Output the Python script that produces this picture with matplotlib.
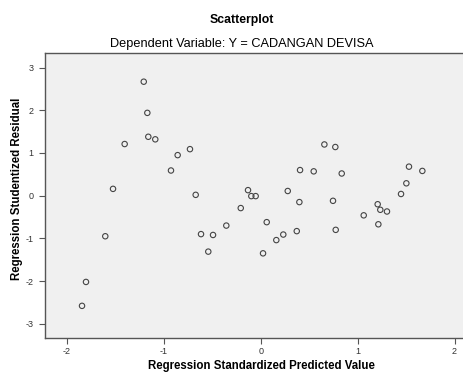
import matplotlib
matplotlib.use("Agg")
import matplotlib.pyplot as plt

# Data
pred = [-1.207, -1.170, -1.160, -1.088, -1.404, -0.730, -0.857, -0.926, -1.524, -0.671,
        -0.131, -0.097, -0.052, -0.206, 0.657, 0.770, 0.406, 0.547, 0.836, 1.530,
        1.668, 1.503, 1.448, 0.279, 0.399, 0.746, 1.207, 1.234, 1.303, 1.063,
        1.214, 0.062, 0.372, 0.774, 0.233, 0.161, 0.024, -0.355, -0.616, -0.492,
        -0.541, -1.604, -1.803, -1.844]
resid = [2.67, 1.94, 1.38, 1.32, 1.21, 1.09, 0.95, 0.59, 0.16, 0.02,
         0.13, -0.01, -0.01, -0.29, 1.20, 1.14, 0.60, 0.57, 0.52, 0.68,
         0.58, 0.29, 0.04, 0.11, -0.15, -0.12, -0.20, -0.33, -0.37, -0.46,
         -0.67, -0.62, -0.83, -0.80, -0.91, -1.04, -1.35, -0.70, -0.90, -0.92,
         -1.31, -0.95, -2.02, -2.58]
xticks = [-2, -1, 0, 1, 2]
yticks = [-3, -2, -1, 0, 1, 2, 3]

plt.rcParams['font.family'] = ['Liberation Sans', 'DejaVu Sans']

W, H = 463, 372
fig = plt.figure(figsize=(W / 100, H / 100), dpi=100)
ax = fig.add_axes([45 / W, (H - 338.3) / H, (477 - 45) / W, (338.3 - 52.7) / H])
ax.set_facecolor('#f0f0f0')

ax.scatter(pred, resid, s=15, facecolors='none', edgecolors='#444444', linewidths=0.8, zorder=3)

ax.set_xlim(-2.226, 2.232)
ax.set_ylim(-3.340, 3.349)
ax.set_xticks(xticks)
ax.set_yticks(yticks)
ax.set_xticklabels([str(v) for v in xticks])
ax.set_yticklabels([str(v) for v in yticks])
ax.tick_params(direction='out', length=4, width=0.8, color='#555555',
               labelsize=6.5, labelcolor='#333333')
ax.tick_params(axis='y', pad=4.5)
ax.tick_params(axis='x', pad=2.5)
for s in ax.spines.values():
    s.set_color('#555555')
    s.set_linewidth(1.0)

fig.text(261 / W, 1 - 366 / H, 'Regression Standardized Predicted Value',
         ha='center', va='center', fontsize=8.3, fontweight='bold')
fig.text(17 / W, 1 - 189 / H, 'Regression Studentized Residual', rotation=90,
         ha='center', va='center', fontsize=8.3, fontweight='bold')

fig.text(242 / W, 1 - 20.5 / H, 'Scatterplot', ha='center', va='center', fontsize=8.8, fontweight='bold')
fig.text(242 / W, 1 - 44 / H, 'Dependent Variable: Y = CADANGAN DEVISA', ha='center', va='center', fontsize=9.2)

fig.savefig('out.png', dpi=100, facecolor='white')
